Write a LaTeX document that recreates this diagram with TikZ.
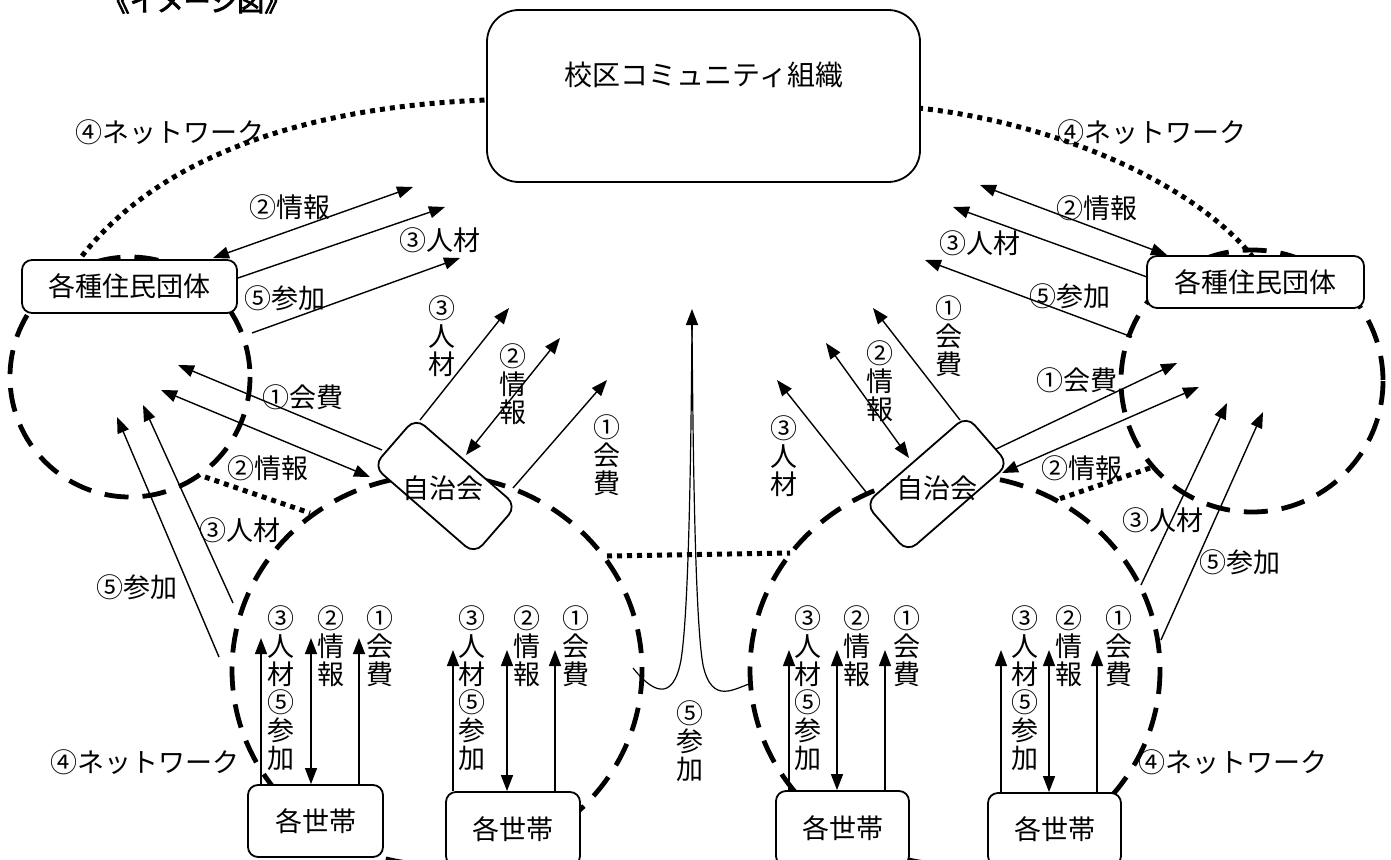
\documentclass[tikz,border=0pt]{standalone}
\usepackage{fontspec}
\setmainfont{Noto Sans CJK JP}
\newfontfamily\titlefont[FakeBold=3]{Noto Sans CJK JP}
\usetikzlibrary{arrows.meta}
\tikzset{
  box/.style={draw, line width=1.8pt, rounded corners=10pt, fill=white, inner sep=0pt,
    font=\fontsize{27pt}{28pt}\selectfont},
  ring/.style={line width=4.8pt, dash pattern=on 24pt off 14pt},
  net/.style={line width=5pt, dash pattern=on 5pt off 5pt},
  arr/.style={line width=1.4pt, -{Triangle[length=16pt,width=12pt]}},
  darr/.style={line width=1.4pt, {Triangle[length=16pt,width=12pt]}-{Triangle[length=16pt,width=12pt]}},
  thin/.style={line width=1.2pt},
  lab/.style={font=\fontsize{27pt}{28pt}\selectfont, inner sep=0pt, align=center},
}
\begin{document}
\begin{tikzpicture}[x=1pt,y=-1pt]
\useasboundingbox (0,0) rectangle (1391,859);

% title (cut at top edge as in the reference)
\node[font=\titlefont\fontsize{27pt}{27pt}\selectfont, inner sep=0pt] (title) at (197,1) {《イメージ図》};

% dashed rings
\draw[ring] (130,377) circle [radius=120];
\draw[ring] (1252,381) circle [radius=131];
\draw[ring] (437,670) ellipse [x radius=205, y radius=195];
\draw[ring] (955,670) ellipse [x radius=205, y radius=195];

% named points
\path (82,256) coordinate (nA1) (487,100) coordinate (nA2)
      (918,108) coordinate (nB1) (1252,256) coordinate (nB2)
      (205,477) coordinate (nC1) (310,513) coordinate (nC2)
      (1150,468) coordinate (nD1) (1056,500) coordinate (nD2)
      (607,556) coordinate (nE1) (790,553) coordinate (nE2);

% dotted network lines
\draw[net] (nA1) .. controls (165,150) and (320,106) .. (nA2);
\draw[net] (nB1) .. controls (1050,122) and (1190,180) .. (nB2);
\draw[net] (nC1) -- (nC2);
\draw[net] (nD1) -- (nD2);
\draw[net] (nE1) -- (nE2);

% central spike
\coordinate (tip) at (692,309);
\coordinate (spL) at (633,668);
\coordinate (spR) at (752,683);
\draw[thin] (spL) .. controls (652,692) and (673,703) .. (681,660) .. controls (689,610) and (691,450) .. (692,325);
\draw[thin] (spR) .. controls (735,688) and (712,706) .. (703,665) .. controls (695,620) and (693,450) .. (692,325);
\draw[arr] (692,330) -- (tip);

% arrows: left association box
\path (213,258) coordinate (lbA) (413,187) coordinate (lbAe)
      (238,278) coordinate (lbB) (445,207) coordinate (lbBe)
      (252,333) coordinate (lbC) (460,258) coordinate (lbCe);
\draw[darr] (lbA) -- (lbAe);
\draw[arr] (lbB) -- (lbBe);
\draw[arr] (lbC) -- (lbCe);
% arrows: right association box
\path (1167,255) coordinate (rbA) (980,185) coordinate (rbAe)
      (1147,277) coordinate (rbB) (953,207) coordinate (rbBe)
      (1132,337) coordinate (rbC) (925,260) coordinate (rbCe);
\draw[darr] (rbA) -- (rbAe);
\draw[arr] (rbB) -- (rbBe);
\draw[arr] (rbC) -- (rbCe);

% arrows: left jichikai
\path (420,420) coordinate (jlA) (509,308) coordinate (jlAe)
      (466,455) coordinate (jlB) (560,338) coordinate (jlBe)
      (513,488) coordinate (jlC) (607,380) coordinate (jlCe)
      (382,450) coordinate (jlD) (178,365) coordinate (jlDe)
      (370,477) coordinate (jlE) (161,390) coordinate (jlEe);
\draw[arr] (jlA) -- (jlAe);
\draw[darr] (jlB) -- (jlBe);
\draw[arr] (jlC) -- (jlCe);
\draw[arr] (jlD) -- (jlDe);
\draw[darr] (jlE) -- (jlEe);
% arrows: right jichikai
\path (960,420) coordinate (jrA) (873,308) coordinate (jrAe)
      (909,458) coordinate (jrB) (826,343) coordinate (jrBe)
      (866,492) coordinate (jrC) (777,380) coordinate (jrCe)
      (994,450) coordinate (jrD) (1177,363) coordinate (jrDe)
      (1002,473) coordinate (jrE) (1199,387) coordinate (jrEe);
\draw[arr] (jrA) -- (jrAe);
\draw[darr] (jrB) -- (jrBe);
\draw[arr] (jrC) -- (jrCe);
\draw[arr] (jrD) -- (jrDe);
\draw[darr] (jrE) -- (jrEe);

% arrows from households to associations
\path (233,603) coordinate (lwA) (143,405) coordinate (lwAe)
      (219,657) coordinate (lwB) (117,417) coordinate (lwBe)
      (1141,585) coordinate (rwA) (1227,403) coordinate (rwAe)
      (1161,640) coordinate (rwB) (1263,412) coordinate (rwBe);
\draw[thin,arr] (lwA) -- (lwAe);
\draw[thin,arr] (lwB) -- (lwBe);
\draw[thin,arr] (rwA) -- (rwAe);
\draw[thin,arr] (rwB) -- (rwBe);

% boxes
\node[box, rounded corners=32pt, minimum width=433pt, minimum height=172pt] (top) at (703.5,96) {};
\node[lab, font=\fontsize{28pt}{28pt}\selectfont] (toptext) at (704,75) {校区コミュニティ組織};
\node[box, minimum width=215pt, minimum height=53pt] (lb) at (129.5,286.5) {各種住民団体};
\node[box, minimum width=217pt, minimum height=52pt] (rb) at (1255.5,282) {各種住民団体};
\node[box, rounded corners=12pt, rotate=-41, minimum width=134pt, minimum height=64pt] (jl) at (445,486) {};
\node[lab] (jltext) at (443,488) {自治会};
\node[box, rounded corners=12pt, rotate=41, minimum width=134pt, minimum height=64pt] (jr) at (937,484) {};
\node[lab] (jrtext) at (937,488) {自治会};
\node[box, minimum width=135pt, minimum height=72pt] (h1) at (315.5,821) {各世帯};
\node[box, minimum width=134pt, minimum height=74pt] (h2) at (513,829) {各世帯};
\node[box, minimum width=133pt, minimum height=75pt] (h3) at (842.5,828.5) {各世帯};
\node[box, minimum width=133pt, minimum height=73pt] (h4) at (1054.5,829.5) {各世帯};

% household arrows
\draw[arr] (h1.north -| 261,0) -- (261,638);
\draw[darr] (h1.north -| 311,0) -- (311,638);
\draw[arr] (h1.north -| 359,0) -- (359,638);
\draw[arr] (h2.north -| 453,0) -- (453,650);
\draw[darr] (h2.north -| 507,0) -- (507,650);
\draw[arr] (h2.north -| 555,0) -- (555,650);
\draw[arr] (h3.north -| 789,0) -- (789,650);
\draw[darr] (h3.north -| 837,0) -- (837,650);
\draw[arr] (h3.north -| 885,0) -- (885,650);
\draw[arr] (h4.north -| 1001,0) -- (1001,650);
\draw[darr] (h4.north -| 1049,0) -- (1049,650);
\draw[arr] (h4.north -| 1097,0) -- (1097,650);

% household labels
\foreach \x/\y/\z in {281/331/380, 472/527/576, 808/857/907, 1025/1069/1119}{
  \node[lab] at (\x,688) {③\\人\\材\\⑤\\参\\加};
  \node[lab] at (\y,646) {②\\情\\報};
  \node[lab] at (\z,646) {①\\会\\費};
}

% network labels
\node[lab] (nl1) at (170,132) {④ネットワーク};
\node[lab] (nl2) at (1152,132) {④ネットワーク};
\node[lab] (nl3) at (145,762) {④ネットワーク};
\node[lab] (nl4) at (1233,762) {④ネットワーク};

% upper labels
\node[lab] at (290,207) {②情報};
\node[lab] at (440,240) {③人材};
\node[lab] at (285,298) {⑤参加};
\node[lab] at (1097,208) {②情報};
\node[lab] at (980,243) {③人材};
\node[lab] at (1070,296) {⑤参加};

% middle labels
\node[lab] at (303,397) {①会費};
\node[lab] at (268,468) {②情報};
\node[lab] at (240,530) {③人材};
\node[lab] at (137,587) {⑤参加};
\node[lab] at (1077,380) {①会費};
\node[lab] at (1082,468) {②情報};
\node[lab] at (1163,520) {③人材};
\node[lab] at (1240,562) {⑤参加};

% vertical labels near jichikai
\node[lab] at (442,336) {③\\人\\材};
\node[lab] at (513,384) {②\\情\\報};
\node[lab] at (607,455) {①\\会\\費};
\node[lab] at (949,336) {①\\会\\費};
\node[lab] at (880,381) {②\\情\\報};
\node[lab] at (784,456) {③\\人\\材};
\node[lab] at (690,741) {⑤\\参\\加};
\end{tikzpicture}
\end{document}
